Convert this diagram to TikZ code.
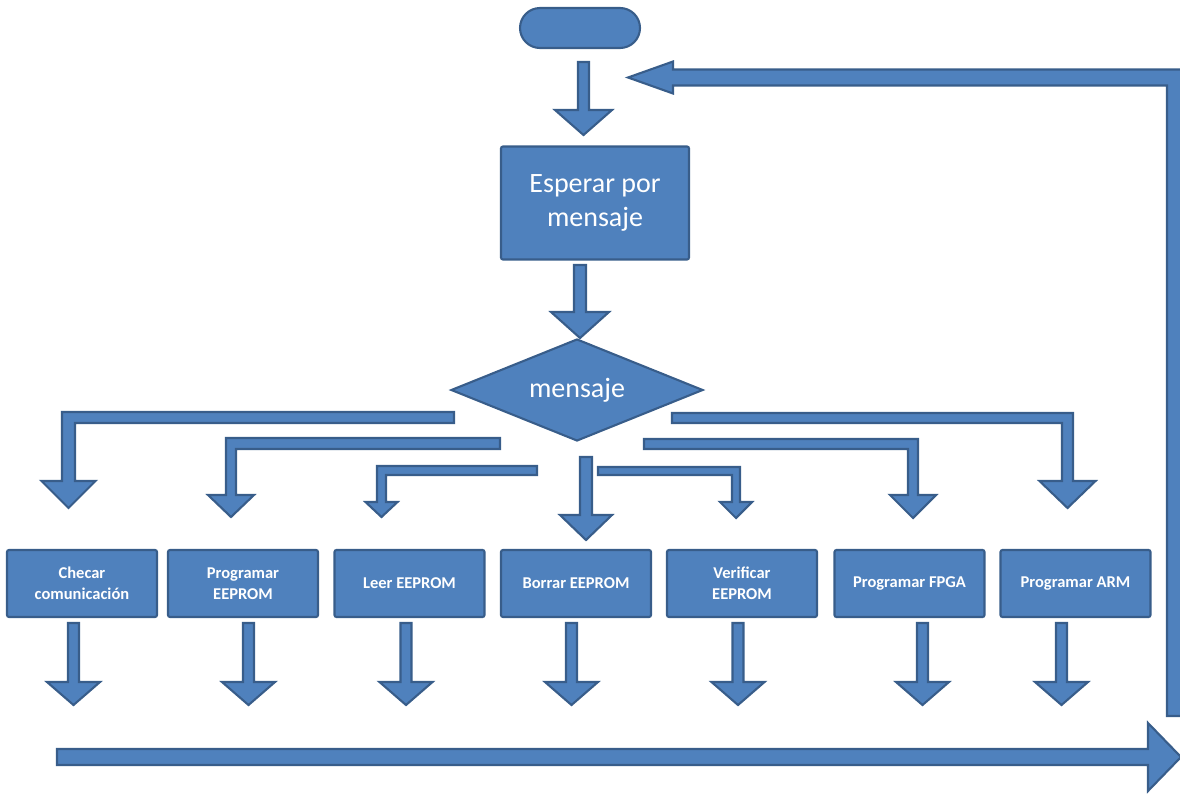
\documentclass[tikz,border=0pt]{standalone}
\usepackage{fontspec}
\setmainfont{Carlito}
\usetikzlibrary{shapes.geometric}

\definecolor{boxfill}{RGB}{79,129,189}
\definecolor{boxline}{RGB}{56,93,138}

\tikzset{
  blk/.style={fill=boxfill, draw=boxline, line width=2.1pt, line join=miter},
  shapebox/.style={fill=boxfill, draw=boxline, line width=2.1pt, text=white,
    rounded corners=2pt, align=center, inner sep=0pt},
  taskbox/.style={shapebox, minimum width=150pt, minimum height=67pt,
    font=\fontsize{16.5}{21}\selectfont\bfseries},
}

% straight block arrow pointing down:
% x centre, top, head base, tip, shaft half width, head half width
\newcommand{\downblk}[6]{%
  \filldraw[blk] (#1-#5,#2) -- (#1+#5,#2) -- (#1+#5,#3) -- (#1+#6,#3)
    -- (#1,#4) -- (#1-#6,#3) -- (#1-#5,#3) -- cycle;}

% bent block arrow: horizontal run, then down
% start x, shaft top y, shaft bottom y, outer x, inner x, head base, tip, head half width
\newcommand{\elbowblk}[8]{%
  \pgfmathsetmacro{\elbC}{(#4+#5)/2}%
  \pgfmathsetmacro{\elbO}{\elbC+#8*sign(#4-#5)}%
  \pgfmathsetmacro{\elbI}{\elbC-#8*sign(#4-#5)}%
  \filldraw[blk] (#1,#2) -- (#4,#2) -- (#4,#6) -- (\elbO,#6) -- (\elbC,#7)
    -- (\elbI,#6) -- (#5,#6) -- (#5,#3) -- (#1,#3) -- cycle;}

\begin{document}
\begin{tikzpicture}[x=1pt, y=-1pt]
\useasboundingbox (0,0) rectangle (1180,793);

% start terminal
\node[shapebox, rounded corners=20pt, minimum width=120pt, minimum height=40pt]
  (start) at (580,28) {};

% wait step
\node[shapebox, minimum width=188pt, minimum height=113pt,
  font=\fontsize{28}{34}\selectfont] (wait) at (595,203) {Esperar por\\mensaje};

% decision
\node[shapebox, rounded corners=0pt, diamond, aspect=2.47, minimum width=252pt,
  minimum height=102pt, font=\fontsize{28}{34}\selectfont] (msg) at (577,390) {mensaje};

% message handlers
\node[taskbox] (b1) at (82,583.5)    {Checar\\comunicación};
\node[taskbox] (b2) at (243,583.5)   {Programar\\EEPROM};
\node[taskbox] (b3) at (409.5,583.5) {Leer EEPROM};
\node[taskbox] (b4) at (576,583.5)   {Borrar EEPROM};
\node[taskbox] (b5) at (742,583.5)   {Verificar\\EEPROM};
\node[taskbox] (b6) at (909.5,583.5) {Programar FPGA};
\node[taskbox] (b7) at (1075.5,583.5){Programar ARM};

% main flow
\downblk{583.5}{62}{110}{135}{5.5}{28.5}
\downblk{580}{265}{312}{338}{6}{29}
\downblk{586}{457}{515}{540}{6}{26}

% branches out of the decision
\elbowblk{454}{412}{423}{62}{75}{481}{508}{27}
\elbowblk{500}{438}{449}{226}{236}{495}{517}{23}
\elbowblk{537}{466}{475}{377}{386}{502}{517}{16}
\elbowblk{598}{467}{475}{740}{732}{502}{518}{16}
\elbowblk{644}{439}{449}{918}{908}{495}{518}{23}
\elbowblk{672}{413}{423}{1073}{1062}{481}{508}{28}

% exits of the handlers
\foreach \xc in {73.5,248.5,406,571.5,738,922.5,1061.5}{
  \downblk{\xc}{623}{682}{705}{5.5}{26.5}
}

% collector arrow
\filldraw[blk] (57,749) -- (1148,749) -- (1148,723) -- (1181,757)
  -- (1148,791) -- (1148,765) -- (57,765) -- cycle;

% return loop
\filldraw[blk] (1167,716) -- (1183,716) -- (1183,69.5) -- (673,69.5) -- (673,61.5)
  -- (628,77.5) -- (673,93.5) -- (673,85.5) -- (1167,85.5) -- cycle;
\end{tikzpicture}
\end{document}
